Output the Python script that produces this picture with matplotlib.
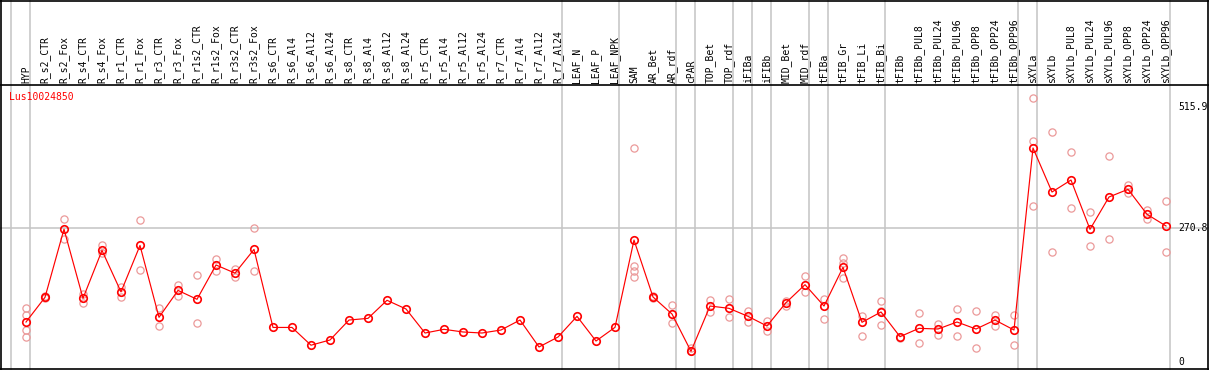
import matplotlib
matplotlib.use("Agg")
import matplotlib.pyplot as plt
from matplotlib.lines import Line2D

# ---------------- data ----------------
title = "Lus10024850"
samples = ["HYP", "R_s2_CTR", "R_s2_Fox", "R_s4_CTR", "R_s4_Fox", "R_r1_CTR", "R_r1_Fox",
           "R_r3_CTR", "R_r3_Fox", "R_r1s2_CTR", "R_r1s2_Fox", "R_r3s2_CTR", "R_r3s2_Fox",
           "R_s6_CTR", "R_s6_Al4", "R_s6_Al12", "R_s6_Al24", "R_s8_CTR", "R_s8_Al4",
           "R_s8_Al12", "R_s8_Al24", "R_r5_CTR", "R_r5_Al4", "R_r5_Al12", "R_r5_Al24",
           "R_r7_CTR", "R_r7_Al4", "R_r7_Al12", "R_r7_Al24", "LEAF_N", "LEAF_P", "LEAF_NPK",
           "SAM", "AR_Bet", "AR_rdf", "cPAR", "TOP_Bet", "TOP_rdf", "iFIBa", "iFIBb",
           "MID_Bet", "MID_rdf", "tFIBa", "tFIB_Gr", "tFIB_Li", "tFIB_Bi", "tFIBb",
           "tFIBb_PUL8", "tFIBb_PUL24", "tFIBb_PUL96", "tFIBb_OPP8", "tFIBb_OPP24",
           "tFIBb_OPP96", "sXYLa", "sXYLb", "sXYLb_PUL8", "sXYLb_PUL24", "sXYLb_PUL96",
           "sXYLb_OPP8", "sXYLb_OPP24", "sXYLb_OPP96"]

means = [81, 131, 269, 129, 226, 142, 236, 90.5, 145, 127, 196.5, 180, 228,
         70, 70, 34, 44.6, 85, 88.4, 125, 107.4, 58.7, 66.2, 60.8, 58.7,
         64.8, 85, 30.4, 50.6, 92.5, 42.5, 70.2,
         247, 131.7, 97.2, 21.6, 113.4, 108.7, 92.5, 72.9,
         120.2, 156.6, 113.4, 191.8, 80.4, 101.3, 51.3,
         68.2, 66.8, 81, 66.8, 85, 64.8,
         433.5, 344.3, 368.6, 268.7, 334.2, 349.8, 299.2, 275.5]

replicates = [
    [108.7, 95.2, 64.8, 50.0], [133, 129], [289.6, 249], [137.7, 120.2], [236.3, 220],
    [152.6, 132], [287.6, 185.7], [108.7, 72.2], [156, 133], [175.6, 78.3],
    [208, 184.3], [189, 172], [270.8, 183.7],
    [], [], [], [], [], [], [], [], [], [], [], [], [], [], [], [], [], [], [],
    [432.8, 194.4, 184.3, 172], [133, 130], [115.5, 78.3], [27.7, 22],
    [125.6, 101.3], [127, 90.5], [104, 80.4], [83.7, 62.1],
    [113.4, 124], [174.2, 141.2], [127.6, 86.4], [210, 200, 169.5], [93.2, 52],
    [122.9, 74.3, 104], [48],
    [98.6, 37.8], [77, 55.3], [106.7, 52], [102.7, 27.7], [94.6, 72.2], [94.6, 33.8],
    [534, 447, 315.4], [465.9, 222.2], [425.4, 312], [303.8, 235], [417.3, 249.1],
    [359, 341.7], [308.5, 290.3], [325.5, 222.2]]

# group separators: drawn after these sample numbers (1-based; 0 = before first)
separators_after = [0, 1, 29, 32, 35, 36, 38, 39, 40, 42, 43, 46, 53, 54, 61]
ytick_values = [0, 270.8, 515.9]
ytick_labels = ["0", "270.8", "515.9"]
ref_line = 270.8

# ---------------- layout ----------------
W, H = 1209, 370
fig = plt.figure(figsize=(W / 100, H / 100), dpi=100)
head_px = 85
mono = "DejaVu Sans Mono"

x0_px, step_px = 26, 19
xlim = (-x0_px / step_px, (W - x0_px) / step_px)
zero_px, scale = 362, 0.4937
ylim = ((zero_px - H) / scale, (zero_px - head_px) / scale)

ax = fig.add_axes([0, 0, 1, (H - head_px) / H])
axh = fig.add_axes([0, (H - head_px) / H, 1, head_px / H])
for a in (ax, axh):
    a.set_xlim(*xlim)
    a.axis("off")
ax.set_ylim(*ylim)
axh.set_ylim(0, 1)

grey = "#c4c4c4"
off = 4 / step_px
for s in separators_after:
    for a in (ax, axh):
        a.axvline(s - 1 + off, color=grey, lw=1.1, zorder=1)
ax.axhline(ref_line, color=grey, lw=1.1, zorder=1)

x = list(range(len(samples)))
# replicates
rx, ry = [], []
for i, reps in enumerate(replicates):
    for v in reps:
        rx.append(i)
        ry.append(v)
ax.plot(rx, ry, ls="none", marker="o", ms=5.2, mfc="none", mec="#eb9a9a", mew=0.9, zorder=2)
# mean line
ax.plot(x, means, color="red", lw=0.85, marker="o", ms=5.4, mfc="none", mec="red",
        mew=1.2, zorder=3)

# sample labels
for i, s in enumerate(samples):
    axh.text(i, 0.025, s, rotation=90, ha="center", va="bottom", fontsize=7,
             family=mono, color="black")

# y labels
for v, lab in zip(ytick_values, ytick_labels):
    ax.text(1178 / W, v, lab, transform=ax.get_yaxis_transform(), ha="left",
            va="center", fontsize=7, family=mono, color="black", clip_on=False)

# title
ax.text(9 / W, (H - 97) / (H - head_px), title, transform=ax.transAxes, ha="left",
        va="center", fontsize=7, family=mono, color="red")

# borders
def fx(px):
    return px / W

def fy(py):
    return 1 - py / H

bl = dict(color="black", lw=1.2, transform=fig.transFigure)
fig.add_artist(Line2D([fx(0), fx(W)], [fy(0.6), fy(0.6)], **bl))
fig.add_artist(Line2D([fx(0), fx(W)], [fy(head_px), fy(head_px)], **bl))
fig.add_artist(Line2D([fx(0), fx(W)], [fy(369.2), fy(369.2)], **bl))
fig.add_artist(Line2D([fx(1.2), fx(1.2)], [0, 1], **bl))
fig.add_artist(Line2D([fx(1207.6), fx(1207.6)], [0, 1], **bl))

fig.savefig("out.png", dpi=100)
